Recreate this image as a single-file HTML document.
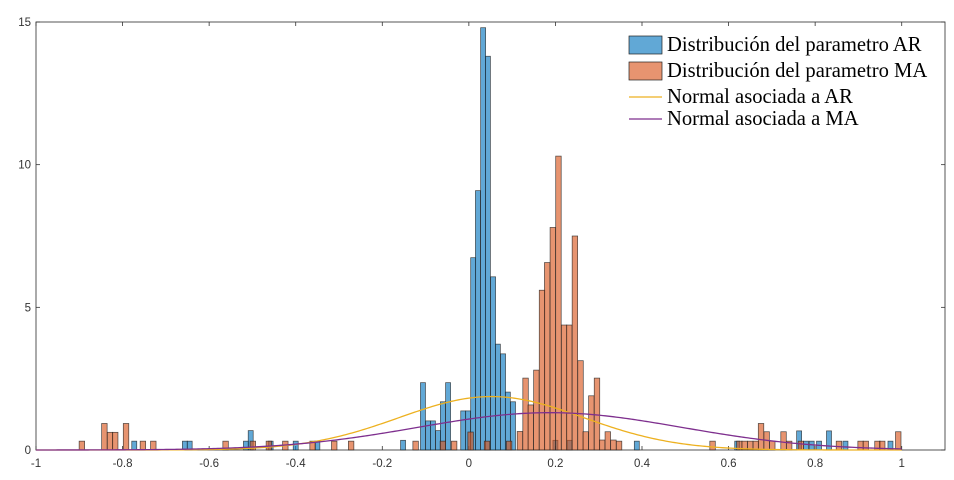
<!DOCTYPE html>
<html><head><meta charset="utf-8"><style>
body{margin:0;background:#fff;}
svg{display:block;font-family:"Liberation Sans",sans-serif;}
</style></head><body>
<svg id="chart" width="954" height="480"></svg>
<script>
const blueX=[-0.152,-0.106,-0.094,-0.083,-0.071,-0.060,-0.048,-0.013,-0.002,0.010,0.021,0.033,0.044,0.056,0.067,0.079,0.090,0.102,0.200,0.233,
-0.773,-0.656,-0.645,-0.515,-0.504,-0.458,-0.400,-0.350,0.388,0.620,0.763,0.779,0.792,0.809,0.832,0.870,0.974];
const blueY=[0.34,2.36,1.02,1.02,0.68,1.69,2.36,1.37,1.37,6.74,9.09,14.8,13.8,6.07,3.71,3.37,2.03,1.69,0.34,0.34,
0.31,0.31,0.31,0.31,0.68,0.31,0.31,0.31,0.31,0.31,0.67,0.31,0.31,0.31,0.67,0.31,0.31];
const orangeX=[-0.123,-0.060,-0.034,0.004,0.042,0.093,
0.118,0.131,0.143,0.156,0.169,0.181,0.194,0.207,0.220,0.232,0.245,0.258,0.270,0.283,0.296,0.308,0.321,0.334,0.347,
-0.894,-0.842,-0.829,-0.817,-0.792,-0.753,-0.729,-0.562,-0.499,-0.462,-0.424,-0.361,-0.311,-0.272,
0.563,0.625,0.637,0.650,0.663,0.675,0.688,0.701,0.727,0.740,0.767,0.855,0.905,0.917,0.944,0.955,0.992];
const orangeY=[0.31,0.31,0.31,0.63,0.31,0.31,
0.65,2.52,1.58,2.8,5.6,6.57,7.8,10.3,4.38,4.38,7.5,3.13,0.64,1.9,2.52,0.35,0.64,0.35,0.31,
0.31,0.93,0.62,0.62,0.93,0.31,0.31,0.31,0.31,0.31,0.31,0.31,0.31,0.31,
0.31,0.31,0.31,0.31,0.31,0.93,0.64,0.31,0.64,0.31,0.31,0.31,0.31,0.31,0.31,0.31,0.64];
const blueWidth=0.01155, orangeWidth=0.0127;
const normAR={mu:0.052,sigma:0.213};
const normMA={mu:0.187,sigma:0.305};
const xTicks=[-1,-0.8,-0.6,-0.4,-0.2,0,0.2,0.4,0.6,0.8,1];
const xTickLabels=["-1","-0.8","-0.6","-0.4","-0.2","0","0.2","0.4","0.6","0.8","1"];
const yTicks=[0,5,10,15];
const legendLabels=["Distribución del parametro AR","Distribución del parametro MA","Normal asociada a AR","Normal asociada a MA"];

const NS="http://www.w3.org/2000/svg";
const svg=document.getElementById('chart');
const L=36,R=945,T=22,B=450;
const xMin=-1,xMax=1.1,yMax=15;
const sx=v=>L+(v-xMin)/(xMax-xMin)*(R-L);
const sy=v=>B-v/yMax*(B-T);
function mk(tag,attrs,parent){const e=document.createElementNS(NS,tag);for(const k in attrs)e.setAttribute(k,attrs[k]);(parent||svg).appendChild(e);return e;}

const frame=mk('rect',{x:L,y:T,width:R-L,height:B-T,fill:'#fff',stroke:'#444','stroke-width':0.9});



xTicks.forEach((t,i)=>{
  const tk=mk('line',{x1:sx(t),x2:sx(t),y1:B,y2:B-4,stroke:'#333','stroke-width':0.8});
  
  
  const tt=mk('line',{x1:sx(t),x2:sx(t),y1:T,y2:T+4,stroke:'#333','stroke-width':0.8});
  
  
  const lb=mk('text',{x:sx(t),y:B+17,'text-anchor':'middle','font-size':11.5,fill:'#333'});
  lb.textContent=xTickLabels[i];
  
  
});
yTicks.forEach(t=>{
  const tk=mk('line',{x1:L,x2:L+4,y1:sy(t),y2:sy(t),stroke:'#333','stroke-width':0.8});
  
  
  const tr=mk('line',{x1:R,x2:R-4,y1:sy(t),y2:sy(t),stroke:'#333','stroke-width':0.8});
  
  
  const lb=mk('text',{x:L-5,y:sy(t)+4,'text-anchor':'end','font-size':11.5,fill:'#333'});
  lb.textContent=String(t);
  
  
});

function bars(xs,ys,w,color,name){
  const g=mk('g',{});
  
  
  xs.forEach((x,i)=>{
    const x0=sx(x-w/2),x1=sx(x+w/2);
    const r=mk('rect',{x:x0,y:sy(ys[i]),width:x1-x0,height:B-sy(ys[i]),fill:color,'fill-opacity':0.62,stroke:'#222','stroke-opacity':0.8,'stroke-width':0.7},g);
    
    
  });
}
bars(blueX,blueY,blueWidth,'#0072BD','ar-histogram');
bars(orangeX,orangeY,orangeWidth,'#D95319','ma-histogram');

function normal(p,color,name){
  let d='';
  for(let i=0;i<=400;i++){
    const x=-1+2*i/400;
    const y=Math.exp(-0.5*((x-p.mu)/p.sigma)**2)/(p.sigma*Math.sqrt(2*Math.PI));
    d+=(i?'L':'M')+sx(x).toFixed(2)+','+sy(y).toFixed(2);
  }
  const pth=mk('path',{d:d,fill:'none',stroke:color,'stroke-width':1.3});
  
  
}
normal(normAR,'#EDB120','normal-ar-curve');
normal(normMA,'#7E2F8E','normal-ma-curve');

const lg=mk('g',{});


const lbox=mk('rect',{x:620,y:29,width:323,height:102,fill:'#fff',stroke:'none'},lg);


const rowsY=[45,71,97,119];
const cols=['#0072BD','#D95319','#EDB120','#7E2F8E'];
legendLabels.forEach((t,i)=>{
  const y=rowsY[i];
  if(i<2){
    const p=mk('rect',{x:629,y:y-9,width:33,height:18,fill:cols[i],'fill-opacity':0.62,stroke:'#222','stroke-width':0.7},lg);
    
    
  } else {
    const p=mk('line',{x1:629,x2:662,y1:y,y2:y,stroke:cols[i],'stroke-width':1.3},lg);
    
    
  }
  const tx=mk('text',{x:667,y:y+6,'font-size':20.6,fill:'#000','font-family':'"Liberation Serif",serif'},lg);
  tx.textContent=t;
  
  
});
</script>
</body></html>
